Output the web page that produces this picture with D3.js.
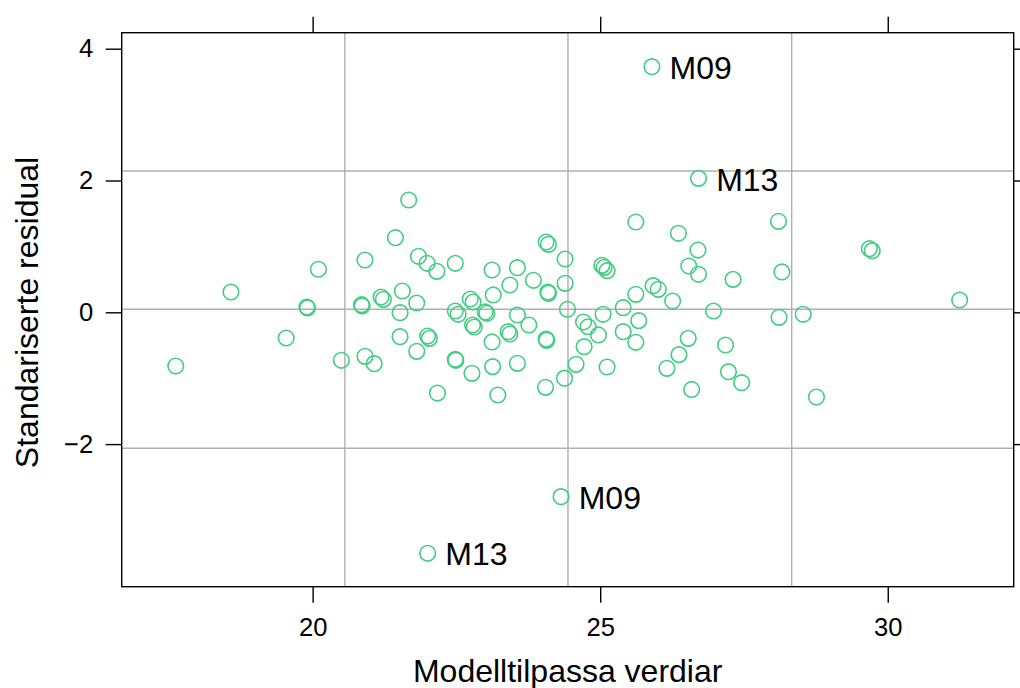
<!DOCTYPE html>
<html>
<head>
<meta charset="utf-8">
<script src="https://cdn.jsdelivr.net/npm/d3@7"></script>
<style>
  body { margin: 0; background: #fff; }
  text { font-family: "Liberation Sans", Arial, sans-serif; fill: #000; }
</style>
</head>
<body>
<div id="chart"></div>
<script>
// fitted values (x) and standardised residuals (y)
const fitted = [
  17.62, 18.58, 19.54, 19.90, 19.91, 20.10, 20.50, 20.85, 20.86, 20.91,
  20.91, 21.07, 21.19, 21.23, 21.44, 21.56, 21.52, 21.52, 21.67, 21.81,
  21.81, 21.84, 21.99, 22.16, 22.00, 22.03, 22.17, 22.48, 22.48, 22.53,
  22.48, 22.49, 22.74, 22.79, 22.78, 22.81, 22.77, 23.00, 23.03, 23.12,
  23.14, 23.12, 23.13, 23.22, 25.62, 28.10, 26.36, 24.06, 24.10, 26.70,
  24.39, 25.03, 25.07, 25.12, 29.68, 29.73, 26.54, 26.71, 28.16, 23.56,
  27.31, 23.84, 23.43, 24.39, 25.92, 26.01, 25.62, 24.09, 24.10, 26.26,
  31.25, 24.43, 25.40, 26.97, 28.53, 28.11, 25.05, 23.56, 24.71, 24.79,
  25.67, 23.76, 24.97, 23.40, 23.43, 25.40, 24.06, 24.07, 25.62, 26.53,
  27.18, 24.72, 26.37, 23.56, 24.58, 25.12, 26.16, 27.23, 27.46, 24.38,
  24.05, 26.59, 28.76
];
const residual = [
  -0.815, 0.308, -0.39, 0.08, 0.065, 0.653, -0.728, 0.115, 0.096, 0.794,
  -0.668, -0.78, 0.232, 0.197, 1.132, 0.323, -0.006, -0.37, 1.704, 0.141,
  -0.592, 0.85, 0.744, 0.622, -0.36, -0.395, -1.225, 0.744, 0.02, -0.03,
  -0.713, -0.728, 0.202, 0.156, -0.193, -0.223, -0.926, 0.005, -0.015, 0.642,
  0.263, -0.45, -0.825, -1.255, 1.370, 1.381, 1.199, 1.067, 1.032, 0.945,
  0.809, 0.713, 0.683, 0.631, 0.965, 0.935, 0.703, 0.577, 0.612, 0.677,
  0.5, 0.486, 0.414, 0.44, 0.404, 0.349, 0.273, 0.308, 0.288, 0.171,
  0.187, 0.046, 0.07, 0.02, -0.03, -0.076, -0.03, -0.041, -0.147, -0.219,
  -0.127, -0.193, -0.344, -0.294, -0.329, -0.294, -0.405, -0.425, -0.455, -0.395,
  -0.496, -0.522, -0.643, -0.774, -0.789, -0.83, -0.85, -0.901, -1.068, -1.0,
  -1.138, -1.171, -1.285
];

// labelled outliers
const outlierNames = ["M09", "M13", "M09", "M13"];
const outlierFitted = [25.90, 26.71, 24.32, 22.00];
const outlierResidual = [3.727, 2.033, -2.798, -3.657];

const xTicks = [20, 25, 30];
const yTicks = [-2, 0, 2, 4];
const vGrid = [20.56, 24.44, 28.33];
const hGrid = [2.144, 0.046, -2.064];

const svgWidth = 1020;
const svgHeight = 688;
const panel = { left: 121.7, right: 1013.7, top: 32.7, bottom: 586.7 };
const green = "#43cd80";

const svg = d3.select("#chart").append("svg")
  .attr("width", svgWidth)
  .attr("height", svgHeight);

const x = d3.scaleLinear()
  .domain([16.68, 32.19])
  .range([panel.left, panel.right]);

const y = d3.scaleLinear()
  .domain([-4.164, 4.243])
  .range([panel.bottom, panel.top]);

// grid
svg.append("g").selectAll("line")
  .data(vGrid)
  .join("line")
  .attr("x1", d => x(d)).attr("x2", d => x(d))
  .attr("y1", panel.top).attr("y2", panel.bottom)
  .attr("stroke", "#b0b0b0").attr("stroke-width", 1.4);

svg.append("g").selectAll("line")
  .data(hGrid)
  .join("line")
  .attr("x1", panel.left).attr("x2", panel.right)
  .attr("y1", d => y(d)).attr("y2", d => y(d))
  .attr("stroke", "#b0b0b0").attr("stroke-width", 1.4);

// axes
const tickFont = "25.6px";
function styleAxis(g) {
  g.select(".domain").remove();
  g.selectAll(".tick line").attr("stroke", "#000").attr("stroke-width", 1.4);
  g.selectAll(".tick text")
    .attr("fill", "#000")
    .style("font-size", tickFont)
    .style("font-family", "'Liberation Sans', Arial, sans-serif");
}

svg.append("g")
  .attr("transform", `translate(0,${panel.bottom})`)
  .call(d3.axisBottom(x).tickValues(xTicks).tickSize(16).tickPadding(15.5))
  .call(styleAxis);

svg.append("g")
  .attr("transform", `translate(0,${panel.top})`)
  .call(d3.axisTop(x).tickValues(xTicks).tickSize(16).tickFormat(""))
  .call(styleAxis);

svg.append("g")
  .attr("transform", `translate(${panel.left},0)`)
  .call(d3.axisLeft(y).tickValues(yTicks).tickSize(16).tickPadding(12.5))
  .call(styleAxis);

svg.append("g")
  .attr("transform", `translate(${panel.right},0)`)
  .call(d3.axisRight(y).tickValues(yTicks).tickSize(16).tickFormat(""))
  .call(styleAxis);

// frame
svg.append("rect")
  .attr("x", panel.left)
  .attr("y", panel.top)
  .attr("width", panel.right - panel.left)
  .attr("height", panel.bottom - panel.top)
  .attr("fill", "none")
  .attr("stroke", "#000")
  .attr("stroke-width", 1.4);

// points
const points = fitted.map((f, i) => ({ f: f, r: residual[i] }));
svg.append("g").selectAll("circle")
  .data(points)
  .join("circle")
  .attr("cx", d => x(d.f))
  .attr("cy", d => y(d.r))
  .attr("r", 7.8)
  .attr("fill", "none")
  .attr("stroke", green)
  .attr("stroke-width", 1.6);

const outliers = outlierNames.map((n, i) => ({ name: n, f: outlierFitted[i], r: outlierResidual[i] }));
const out = svg.append("g").selectAll("g")
  .data(outliers)
  .join("g")
  .attr("transform", d => `translate(${x(d.f)},${y(d.r)})`);

out.append("circle")
  .attr("r", 7.8)
  .attr("fill", "none")
  .attr("stroke", green)
  .attr("stroke-width", 1.6);

out.append("text")
  .attr("x", 17.6)
  .attr("dy", "0.38em")
  .style("font-size", "32px")
  .text(d => d.name);

// axis titles
svg.append("text")
  .attr("x", (panel.left + panel.right) / 2)
  .attr("y", 681.7)
  .attr("text-anchor", "middle")
  .style("font-size", "32px")
  .text("Modelltilpassa verdiar");

svg.append("text")
  .attr("transform", "rotate(-90)")
  .attr("x", -312.5)
  .attr("y", 37.5)
  .attr("text-anchor", "middle")
  .style("font-size", "32px")
  .text("Standariserte residual");
</script>
</body>
</html>
